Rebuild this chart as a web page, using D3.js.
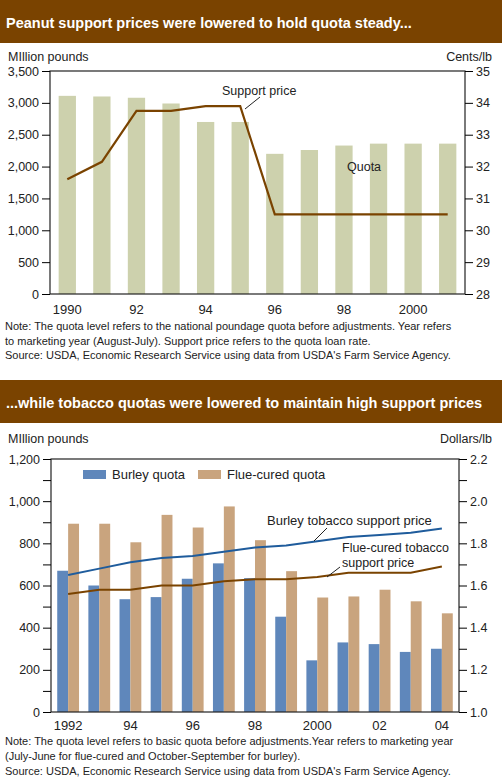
<!DOCTYPE html>
<html><head><meta charset="utf-8">
<script src="https://cdn.jsdelivr.net/npm/d3@7"></script>
<style>body{margin:0;background:#fff;font-family:"Liberation Sans",Arial,sans-serif}</style>
</head><body><svg id="c" width="502" height="780"></svg>
<script>
var peanutYears = [1990,1991,1992,1993,1994,1995,1996,1997,1998,1999,2000,2001];
var peanutQuota = [3110,3100,3080,2990,2700,2700,2200,2260,2330,2360,2360,2360];
var peanutPrice = [31.6,32.15,33.75,33.75,33.9,33.9,30.5,30.5,30.5,30.5,30.5,30.5];
var peanutLabels = {1990:"1990",1992:"92",1994:"94",1996:"96",1998:"98",2000:"2000"};

var tobYears = [1992,1993,1994,1995,1996,1997,1998,1999,2000,2001,2002,2003,2004];
var burleyQuota = [670,600,535,545,632,705,635,452,245,330,322,285,300];
var flueQuota = [893,893,805,935,875,975,815,668,543,548,580,525,468];
var burleyPrice = [1.65,1.68,1.71,1.73,1.74,1.76,1.78,1.79,1.81,1.83,1.84,1.85,1.87];
var fluePrice = [1.56,1.58,1.58,1.60,1.60,1.62,1.63,1.63,1.64,1.66,1.66,1.66,1.69];
var tobLabels = {1992:"1992",1994:"94",1996:"96",1998:"98",2000:"2000",2002:"02",2004:"04"};

var svg = d3.select("#c");
var brown = "#7a4300";

function header(y, txt) {
  svg.append("rect").attr("x",0).attr("y",y).attr("width",502).attr("height",43).attr("fill",brown);
  svg.append("text").attr("x",6).attr("y",y+28).attr("fill","#fff").attr("font-weight","bold")
    .attr("font-size",14.5).text(txt);
}
function text(x,y,t,opt) {
  opt = opt||{};
  return svg.append("text").attr("x",x).attr("y",y).attr("font-size",opt.size||12.5)
    .attr("text-anchor",opt.anchor||"start").attr("fill","#222").text(t);
}

// ---- Peanut chart
header(0,"Peanut support prices were lowered to hold quota steady...");
var x1 = d3.scaleBand().domain(peanutYears).range([50,465]).paddingInner(0.5).paddingOuter(0.25);
var y1 = d3.scaleLinear().domain([0,3500]).range([294,71]);
var y1r = d3.scaleLinear().domain([28,35]).range([294,71]);
svg.append("g").selectAll("rect").data(peanutYears).join("rect")
  .attr("x",d=>x1(d)).attr("width",x1.bandwidth())
  .attr("y",(d,i)=>y1(peanutQuota[i])).attr("height",(d,i)=>294-y1(peanutQuota[i]))
  .attr("fill","#cdd1ad");
svg.append("rect").attr("x",50).attr("y",71).attr("width",415).attr("height",223)
  .attr("fill","none").attr("stroke","#222").attr("stroke-width",1.2);
svg.append("g").attr("transform","translate(50,0)").call(d3.axisLeft(y1).tickValues(d3.range(0,3501,500)).tickSize(8).tickFormat(d3.format(",")))
  .call(g=>{g.select(".domain").remove();g.selectAll("text").attr("font-size",12.5).attr("font-family","Liberation Sans").attr("fill","#222");});
svg.append("g").attr("transform","translate(465,0)").call(d3.axisRight(y1r).ticks(7).tickSize(8))
  .call(g=>{g.select(".domain").remove();g.selectAll("text").attr("font-size",12.5).attr("font-family","Liberation Sans").attr("fill","#222");});
peanutYears.forEach(function(d){ if(peanutLabels[d]) text(x1(d)+x1.bandwidth()/2,314,peanutLabels[d],{anchor:"middle",size:13}); });
var line1 = d3.line().x((d,i)=>x1(peanutYears[i])+x1.bandwidth()/2).y(d=>y1r(d));
svg.append("path").datum(peanutPrice).attr("d",line1).attr("fill","none").attr("stroke",brown).attr("stroke-width",2.2);
text(8,61,"MIllion pounds");
text(492,61,"Cents/lb",{anchor:"end"});
text(222,95,"Support price");
svg.append("line").attr("x1",260).attr("y1",97).attr("x2",245).attr("y2",109).attr("stroke","#222");
text(347,171,"Quota");
text(5,330,"Note: The quota level refers to the national poundage quota before adjustments. Year refers",{size:11});
text(5,345,"to marketing year (August-July).  Support price refers to the quota loan rate.",{size:11});
text(5,359,"Source: USDA, Economic Research Service using data from USDA's Farm Service Agency.",{size:11});

// ---- Tobacco chart
var top2 = 380;
header(top2,"...while tobacco quotas were lowered to maintain high support prices");
var x2 = d3.scaleBand().domain(tobYears).range([51,459]).paddingInner(0.3).paddingOuter(0.2);
var y2 = d3.scaleLinear().domain([0,1200]).range([712,459]);
var y2r = d3.scaleLinear().domain([1.0,2.2]).range([712,459]);
var bw = x2.bandwidth()/2;
var g2 = svg.append("g");
g2.selectAll(".b").data(tobYears).join("rect").attr("x",d=>x2(d)).attr("width",bw)
  .attr("y",(d,i)=>y2(burleyQuota[i])).attr("height",(d,i)=>712-y2(burleyQuota[i])).attr("fill","#5f87bb");
g2.selectAll(".f").data(tobYears).join("rect").attr("x",d=>x2(d)+bw).attr("width",bw)
  .attr("y",(d,i)=>y2(flueQuota[i])).attr("height",(d,i)=>712-y2(flueQuota[i])).attr("fill","#c9a47e");
svg.append("rect").attr("x",51).attr("y",459).attr("width",408).attr("height",253)
  .attr("fill","none").attr("stroke","#222").attr("stroke-width",1.2);
svg.append("g").attr("transform","translate(51,0)").call(d3.axisLeft(y2).tickValues(d3.range(0,1201,100)).tickSize(8)
  .tickFormat(d=>d%200===0?d3.format(",")(d):""))
  .call(g=>{g.select(".domain").remove();g.selectAll("text").attr("font-size",12.5).attr("font-family","Liberation Sans").attr("fill","#222");});
svg.append("g").attr("transform","translate(459,0)").call(d3.axisRight(y2r).tickValues(d3.range(0,13).map(i=>1+i*0.1)).tickSize(8)
  .tickFormat((d,i)=>i%2===0?d3.format(".1f")(d):""))
  .call(g=>{g.select(".domain").remove();g.selectAll("text").attr("font-size",12.5).attr("font-family","Liberation Sans").attr("fill","#222");});
tobYears.forEach(function(d){ if(tobLabels[d]) text(x2(d)+bw,730,tobLabels[d],{anchor:"middle",size:13}); });
var line2 = function(arr){ return d3.line().x((d,i)=>x2(tobYears[i])+bw).y(d=>y2r(d))(arr); };
svg.append("path").attr("d",line2(burleyPrice)).attr("fill","none").attr("stroke","#1f5c9c").attr("stroke-width",2);
svg.append("path").attr("d",line2(fluePrice)).attr("fill","none").attr("stroke",brown).attr("stroke-width",2);
text(8,443,"MIllion pounds");
text(492,443,"Dollars/lb",{anchor:"end"});
// legend
svg.append("rect").attr("x",83).attr("y",470).attr("width",23).attr("height",9).attr("fill","#5f87bb");
text(112,479,"Burley quota",{size:13});
svg.append("rect").attr("x",198).attr("y",470).attr("width",23).attr("height",9).attr("fill","#c9a47e");
text(227,479,"Flue-cured quota",{size:13});
text(267,525,"Burley tobacco support price",{size:13});
svg.append("line").attr("x1",327).attr("y1",528).attr("x2",314).attr("y2",541).attr("stroke","#222");
text(342,552,"Flue-cured tobacco",{size:12.5});
text(342,567,"support price",{size:12.5});
svg.append("line").attr("x1",340).attr("y1",567).attr("x2",327).attr("y2",577).attr("stroke","#222");
text(5,745,"Note: The quota level refers to basic quota before adjustments.Year refers to marketing year",{size:11});
text(5,760,"(July-June for flue-cured and October-September for burley).",{size:11});
text(5,775,"Source: USDA, Economic Research Service using data from USDA's Farm Service Agency.",{size:11});
</script></body></html>
